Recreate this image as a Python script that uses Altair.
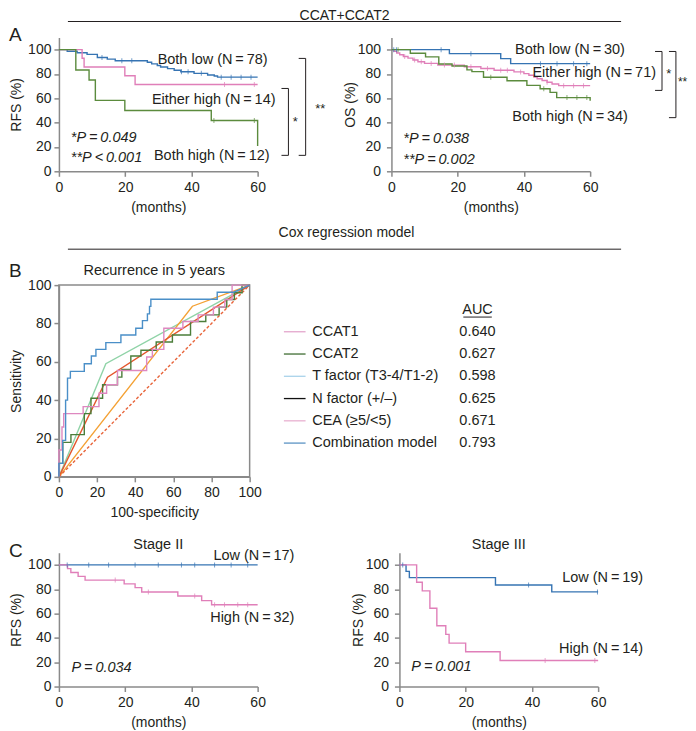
import altair as alt
import pandas as pd

FONT = "Liberation Sans"
TXT = "#231f20"
AXC = "#8a8a8a"
BLUE = "#3674b3"
PINK = "#e07fb9"
GREEN = "#5b8b3d"
FS = 14.5
TS = "\u2009"

# ---------------- Panel A, left: RFS ----------------
rfs_low_t = [0, 2.5, 5.5, 8.5, 11.6, 14.6, 17.0, 26.7, 28.0, 29.7, 30.7, 32.8, 34.8, 36.8, 40.8, 44.9, 46.9, 47.9, 60]
rfs_low_s = [100, 98.7, 97.4, 96.1, 93.5, 92.2, 90.9, 89.6, 88.3, 87.0, 85.7, 84.4, 83.1, 81.8, 80.5, 79.2, 78.3, 77.4, 77.4]
rfs_low_c = [13, 19, 22, 37, 39, 43, 49, 52, 55, 58]
rfs_either_t = [0, 7.0, 7.6, 19.9, 23.0, 60]
rfs_either_s = [100, 92.9, 85.7, 78.6, 71.4, 71.4]
rfs_either_c = [50, 59]
rfs_high_t = [0, 5.1, 9.1, 11.0, 19.9, 46.0, 60]
rfs_high_s = [100, 83.3, 75.0, 58.3, 50.0, 41.7, 20.8]
rfs_high_c = [46.8, 59]

# ---------------- Panel A, right: OS ----------------
os_low_t = [0, 17.5, 33.0, 36.0, 60]
os_low_s = [100, 96.7, 92.6, 88.5, 88.5]
os_low_c = [0.7, 1.5, 15, 24, 45, 50, 55, 59]
os_either_t = [0, 0.8, 1.6, 2.5, 3.6, 5.0, 6.5, 8.0, 10.0, 14.0, 22.0, 27.0, 31.0, 37.0, 40.0, 41.5, 43.0, 44.0, 45.5, 47.0, 48.5, 50.5, 60]
os_either_s = [100, 98.6, 97.2, 95.8, 94.4, 93.0, 91.5, 90.1, 88.7, 87.3, 85.9, 84.5, 83.1, 81.7, 80.3, 78.9, 77.5, 76.1, 74.6, 73.2, 71.8, 70.4, 70.4]
os_either_c = [4, 7, 9, 12, 16, 19, 24, 29, 33, 35, 39, 47, 52, 55, 58]
os_high_t = [0, 5.7, 10.3, 14.3, 18.3, 22.8, 24.3, 27.8, 34.9, 40.9, 44.9, 47.9, 49.9, 60]
os_high_s = [100, 97.1, 94.1, 88.2, 86.5, 83.4, 81.9, 77.3, 74.4, 70.6, 67.8, 64.9, 60.6, 58.0]
os_high_c = [2, 30, 46, 53, 56, 59]

# ---------------- Panel C: Stage II / III ----------------
s2_low_t = [0, 60]
s2_low_s = [100, 100]
s2_low_c = [2.5, 9, 15, 23, 30, 37, 41, 47, 52, 57]
s2_high_t = [0, 2.6, 3.6, 5.8, 7.9, 19.7, 23.0, 25.0, 35.9, 43.1, 46.1, 60]
s2_high_s = [100, 96.9, 93.8, 90.6, 87.5, 84.4, 81.3, 77.7, 74.4, 70.6, 67.2, 67.2]
s2_high_c = [17, 27, 41, 47, 50, 54, 57]
s3_low_t = [0, 2, 3, 29, 46, 60]
s3_low_s = [100, 94.7, 89.5, 83.5, 77.8, 77.8]
s3_low_c = [1, 39, 59.8]
s3_high_t = [0, 5.2, 6.9, 9.2, 11.3, 14.0, 15.0, 20.0, 30.4, 60]
s3_high_s = [100, 85.7, 78.6, 64.3, 50.0, 42.9, 35.7, 28.6, 21.4, 21.4]
s3_high_c = [44, 59]

# ---------------- Panel B: ROC ----------------
comb_fpr = [0, 0, 2, 2, 3.5, 3.5, 4.5, 4.5, 6, 6, 13.3, 13.3, 17, 17, 19.4, 19.4, 24.6, 24.6, 32.5, 32.5, 40.3, 40.3, 43.8, 43.8, 46.4, 46.4, 47.5, 47.5, 48.2, 48.2, 83, 83, 91.6, 100]
comb_tpr = [0, 7, 7, 19, 19, 40, 40, 51.5, 51.5, 55, 55, 59, 59, 63, 63, 66.5, 66.5, 70, 70, 74, 74, 77.5, 77.5, 81.5, 81.5, 85, 85, 88.9, 88.9, 92.6, 92.6, 96.3, 96.3, 100]
ccat1_fpr = [0, 0, 1.6, 1.6, 2.5, 2.5, 12.7, 12.7, 21, 21, 25, 25, 30.7, 30.7, 46, 46, 49, 49, 55, 55, 65, 65, 73, 73, 81, 81, 87, 87, 90.8, 90.8, 100]
ccat1_tpr = [0, 14, 14, 26, 26, 33, 33, 36.6, 36.6, 43.6, 43.6, 48, 48, 55.5, 55.5, 62.5, 62.5, 66.5, 66.5, 77.5, 77.5, 81, 81, 84.5, 84.5, 88.5, 88.5, 92.5, 92.5, 100, 100]
ccat2_fpr = [0, 0, 2, 2, 6.3, 6.3, 13.3, 13.3, 16.8, 16.8, 22.9, 22.9, 30.7, 30.7, 33, 33, 37.7, 37.7, 43, 43, 51, 51, 59.5, 59.5, 69, 69, 77, 77, 84, 84, 88, 88, 92, 92, 96, 96, 100]
ccat2_tpr = [0, 7, 7, 18, 18, 22, 22, 33, 33, 41, 41, 48, 48, 52, 52, 56, 56, 63, 63, 66, 66, 70.3, 70.3, 74, 74, 81, 81, 84.5, 84.5, 88.5, 88.5, 92.5, 92.5, 96, 96, 100, 100]
tfac_fpr = [0, 24.6, 100]
tfac_tpr = [0, 59, 100]
nfac_fpr = [0, 25.5, 100]
nfac_tpr = [0, 52, 100]
cea_fpr = [0, 70, 100]
cea_tpr = [0, 89, 100]
diag_fpr = [0, 100]
diag_tpr = [0, 100]

legend_labels = ["CCAT1", "CCAT2", "T factor (T3-4/T1-2)", "N factor (+/\u2013)", "CEA (\u22655/<5)", "Combination model"]
legend_auc = ["0.640", "0.627", "0.598", "0.625", "0.671", "0.793"]
legend_colors = ["#e3a6cc", "#3f6e33", "#a9d3ea", "#111111", "#e8b0d0", "#5b93c4"]


def step_value(ts, ss, x):
    v = ss[0]
    for t, s in zip(ts, ss):
        if t <= x:
            v = s
    return v


def one():
    return pd.DataFrame({"a": [0]})


def ptext(text, x, y, size=FS, align="center", baseline="middle", style="normal"):
    return alt.Chart(pd.DataFrame({"text": [text]})).mark_text(
        align=align, baseline=baseline, fontSize=size, fontStyle=style, color=TXT, font=FONT
    ).encode(x=alt.value(x), y=alt.value(y), text="text:N")


def prule(x1, x2, y, w=1):
    return alt.Chart(one()).mark_rule(color=TXT, strokeWidth=w).encode(
        x=alt.value(x1), x2=alt.value(x2), y=alt.value(y))


def km_panel(curves, colors, labels, pvals, brackets, stars, ytitle, xrange, yoffset, lpad, tpad, extras, width):
    names = [c[0] for c in curves]
    rows, cens = [], []
    for name, ts, ss, cts in curves:
        for i, (t, s) in enumerate(zip(ts, ss)):
            rows.append({"t": t, "s": s, "g": name, "i": i})
        for c in cts:
            cens.append({"t": c, "s": step_value(ts, ss, c), "g": name})
    line_df = pd.DataFrame(rows)
    cens_df = pd.DataFrame(cens)
    if xrange:
        xs = alt.Scale(domain=[0, 60], nice=False, range=xrange)
    else:
        xs = alt.Scale(domain=[0, 60], nice=False)
    ys = alt.Scale(domain=[0, 110], nice=False)
    X = alt.X("t:Q", scale=xs, axis=alt.Axis(values=[0, 20, 40, 60], title="(months)",
                                             labelPadding=4, titlePadding=6))
    Y = alt.Y("s:Q", scale=ys, axis=alt.Axis(values=[0, 20, 40, 60, 80, 100], title=ytitle,
                                             labelPadding=lpad, titlePadding=tpad, offset=yoffset))
    cs = alt.Scale(domain=names, range=colors)
    layers = [
        alt.Chart(line_df).mark_line(interpolate="step-after", strokeWidth=1.4).encode(
            x=X, y=Y, color=alt.Color("g:N", scale=cs, legend=None), order="i:Q"),
        alt.Chart(cens_df).mark_tick(orient="vertical", size=5, thickness=1).encode(
            x=X, y=Y, color=alt.Color("g:N", scale=cs, legend=None)),
        alt.Chart(pd.DataFrame(labels, columns=["t", "s", "text"])).mark_text(
            align="right", baseline="middle", fontSize=FS, color=TXT, font=FONT).encode(
            x=X, y=Y, text="text:N"),
        alt.Chart(pd.DataFrame(pvals, columns=["t", "s", "text"])).mark_text(
            align="left", baseline="middle", fontSize=FS, fontStyle="italic", color=TXT, font=FONT).encode(
            x=X, y=Y, text="text:N"),
    ]
    if brackets:
        brows = []
        for bid, pts in enumerate(brackets):
            for i, (t, s) in enumerate(pts):
                brows.append({"t": t, "s": s, "b": bid, "i": i})
        layers.append(alt.Chart(pd.DataFrame(brows)).mark_line(color=TXT, strokeWidth=1).encode(
            x=X, y=Y, detail="b:N", order="i:Q"))
        layers.append(alt.Chart(pd.DataFrame(stars, columns=["t", "s", "text", "size"])).mark_text(
            align="left", baseline="middle", color=TXT, font=FONT).encode(
            x=X, y=Y, text="text:N", size=alt.Size("size:Q", scale=None, legend=None)))
    layers += extras
    return alt.layer(*layers).properties(width=width, height=134)


def nl(a, b):
    return a + TS + "=" + TS + b


# ----- A left -----
a_left = km_panel(
    curves=[("Both low", rfs_low_t, rfs_low_s, rfs_low_c),
            ("Either high", rfs_either_t, rfs_either_s, rfs_either_c),
            ("Both high", rfs_high_t, rfs_high_s, rfs_high_c)],
    colors=[BLUE, PINK, GREEN],
    labels=[(63.0, 91.1, "Both low (" + nl("N", "78") + ")"),
            (65.4, 58.9, "Either high (" + nl("N", "14") + ")"),
            (63.6, 12.6, "Both high (" + nl("N", "12") + ")")],
    pvals=[(3.6, 27.3, "*" + nl("P", "0.049")),
           (3.6, 11.0, "**P" + TS + "<" + TS + "0.001")],
    brackets=[[(67.2, 68.1), (69.3, 68.1), (69.3, 13.1), (67.2, 13.1)],
              [(72.4, 92.8), (74.5, 92.8), (74.5, 13.1), (72.4, 13.1)]],
    stars=[(70.6, 40.5, "*", 13), (77.4, 51.5, "**", 13)],
    ytitle="RFS (%)", xrange=None, yoffset=0, lpad=3, tpad=4,
    extras=[ptext("CCAT+CCAT2", 286, -29, size=14, baseline="top"),
            prule(9, 563, -16),
            ptext("A", -50, -2, size=19, align="left")],
    width=199)

# ----- A right -----
a_right = km_panel(
    curves=[("Both low", os_low_t, os_low_s, os_low_c),
            ("Either high", os_either_t, os_either_s, os_either_c),
            ("Both high", os_high_t, os_high_s, os_high_c)],
    colors=[BLUE, PINK, GREEN],
    labels=[(70.5, 99.3, "Both low (" + nl("N", "30") + ")"),
            (79.9, 80.7, "Either high (" + nl("N", "71") + ")"),
            (71.4, 44.6, "Both high (" + nl("N", "34") + ")")],
    pvals=[(3.6, 26.8, "*" + nl("P", "0.038")),
           (3.6, 9.5, "**" + nl("P", "0.002"))],
    brackets=[[(79.6, 98.5), (81.7, 98.5), (81.7, 66.5), (79.6, 66.5)],
              [(83.8, 98.5), (85.9, 98.5), (85.9, 44.1), (83.8, 44.1)]],
    stars=[(83.0, 80.2, "*", 13), (86.5, 73.3, "**", 12)],
    ytitle="OS (%)", xrange=None, yoffset=0, lpad=6, tpad=0,
    extras=[],
    width=199)


def spacer(h, extras=None):
    base = alt.Chart(one()).mark_point(opacity=0, size=0).encode(x=alt.value(0), y=alt.value(0))
    layers = [base] + (extras or [])
    return alt.layer(*layers).properties(width=199, height=h)


sp1a = spacer(114, [ptext("Cox regression model", 288, 62, size=14), prule(9, 563, 78)])
sp1b = spacer(114)
sp3a = spacer(76)
sp3b = spacer(76)

# ----- B ROC -----
rx = alt.X("fpr:Q", scale=alt.Scale(domain=[0, 100], nice=False),
           axis=alt.Axis(values=[0, 20, 40, 60, 80, 100], title="100-specificity", labelPadding=4, titlePadding=6))
ry = alt.Y("tpr:Q", scale=alt.Scale(domain=[0, 100], nice=False),
           axis=alt.Axis(values=[0, 20, 40, 60, 80, 100], title="Sensitivity", labelPadding=3, titlePadding=4))


def roc_line(fpr, tpr, color, dash=None):
    df = pd.DataFrame({"fpr": fpr, "tpr": tpr, "i": list(range(len(fpr)))})
    kw = dict(color=color, strokeWidth=1.4)
    if dash:
        kw["strokeDash"] = dash
    return alt.Chart(df).mark_line(**kw).encode(x=rx, y=ry, order="i:Q")


roc = alt.layer(
    roc_line(tfac_fpr, tfac_tpr, "#8fd3a7"),
    roc_line(cea_fpr, cea_tpr, "#f4a134"),
    roc_line(nfac_fpr, nfac_tpr, "#e4572e"),
    roc_line(diag_fpr, diag_tpr, "#e8643a", [3, 2]),
    roc_line(ccat2_fpr, ccat2_tpr, "#4b7d3a"),
    roc_line(ccat1_fpr, ccat1_tpr, "#de88c0"),
    roc_line(comb_fpr, comb_tpr, "#4a8fc8"),
    ptext("Recurrence in 5 years", 95.5, -14, size=FS),
    ptext("B", -50, -14, size=19, align="left"),
).properties(width=191, height=192, view=alt.ViewBackground(stroke=AXC, strokeWidth=1.5))

# ----- B legend -----
leg_df = pd.DataFrame({"idx": list(range(6)), "label": legend_labels, "auc": legend_auc, "col": legend_colors})
sw_rows = []
for k in range(6):
    for end in (0, 1):
        sw_rows.append({"idx": k, "sx": end, "col": legend_colors[k]})
sw_df = pd.DataFrame(sw_rows)
LY = alt.Y("idx:Q", scale=alt.Scale(domain=[0, 5], range=[46.7, 158.2], nice=False), axis=None)
SX = alt.X("sx:Q", scale=alt.Scale(domain=[0, 1], range=[-107.7, -86], nice=False), axis=None)
leg = alt.layer(
    alt.Chart(sw_df).mark_line(strokeWidth=1.3).encode(
        x=SX, y=LY, detail="idx:N", color=alt.Color("col:N", scale=None)),
    alt.Chart(leg_df).mark_text(align="left", baseline="middle", fontSize=FS, color=TXT, font=FONT).encode(
        x=alt.value(-79.3), y=LY, text="label:N"),
    alt.Chart(leg_df).mark_text(align="left", baseline="middle", fontSize=FS, color=TXT, font=FONT).encode(
        x=alt.value(68), y=LY, text="auc:N"),
    ptext("AUC", 86.2, 25, size=FS),
    prule(72, 100.5, 32),
).properties(width=199, height=192)

# ----- C left / right -----
c_left = km_panel(
    curves=[("Low", s2_low_t, s2_low_s, s2_low_c), ("High", s2_high_t, s2_high_s, s2_high_c)],
    colors=[BLUE, PINK],
    labels=[(71.1, 107.0, "Low (" + nl("N", "17") + ")"),
            (71.1, 56.4, "High (" + nl("N", "32") + ")")],
    pvals=[(3.8, 15.3, nl("P", "0.034"))],
    brackets=None, stars=None,
    ytitle="RFS (%)", xrange=None, yoffset=0, lpad=3, tpad=4,
    extras=[ptext("Stage II", 99.5, -8, size=FS), ptext("C", -50, -2, size=19, align="left")],
    width=199)

c_right = km_panel(
    curves=[("Low", s3_low_t, s3_low_s, s3_low_c), ("High", s3_high_t, s3_high_s, s3_high_c)],
    colors=[BLUE, PINK],
    labels=[(73.6, 89.2, "Low (" + nl("N", "19") + ")"),
            (73.6, 31.0, "High (" + nl("N", "14") + ")")],
    pvals=[(3.6, 16.2, nl("P", "0.001"))],
    brackets=None, stars=None,
    ytitle="RFS (%)", xrange=[8, 207], yoffset=-8, lpad=6, tpad=0,
    extras=[ptext("Stage III", 107.5, -8, size=FS)],
    width=207)

chart = alt.concat(
    a_left, a_right, sp1a, sp1b, roc, leg, sp3a, sp3b, c_left, c_right,
    columns=2, spacing=alt.RowColnumber(row=0, column=134), bounds="flush", padding=0
).configure(font=FONT).configure_view(stroke=None).configure_axis(
    domainColor=AXC, tickColor=AXC, domainWidth=1.5, tickWidth=1.5, tickSize=5,
    labelFontSize=14, titleFontSize=14, titleFontWeight="normal",
    labelColor=TXT, titleColor=TXT, grid=False, labelFlush=False, labelFont=FONT, titleFont=FONT
)

chart.save("out.html", embed_options={"renderer": "svg", "actions": False})
